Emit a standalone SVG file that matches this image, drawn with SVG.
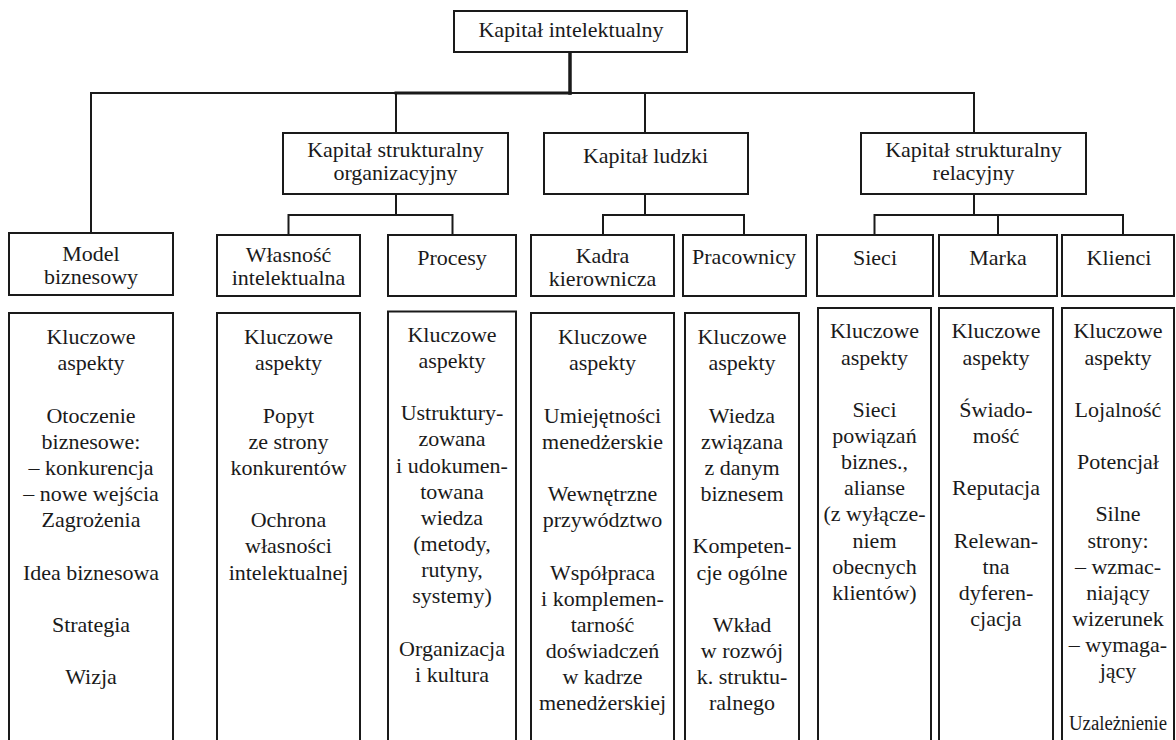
<svg xmlns="http://www.w3.org/2000/svg" width="1176" height="740" viewBox="0 0 1176 740">
  <style>
    .box { fill: #ffffff; stroke: #1a1a1a; stroke-width: 2; }
    .ln { fill: none; stroke: #1a1a1a; stroke-width: 2; stroke-linecap: square; }
    .ln-bold { fill: none; stroke: #1a1a1a; stroke-width: 3.5; stroke-linecap: square; }
    text { font-family: "Liberation Serif", "Times New Roman", serif; font-size: 22px; fill: #1a1a1a; text-anchor: middle; }
    .small { font-size: 20px; }
  </style>

  <rect width="1176" height="740" fill="#ffffff"/>

  <!-- connectors -->
  <g id="connectors">
    <polyline class="ln" points="91,233 91,93 974,93 974,133"/>
    <line class="ln" x1="396" y1="93" x2="396" y2="133"/>
    <line class="ln" x1="645" y1="93" x2="645" y2="133"/>
    <line class="ln-bold" x1="570" y1="52" x2="570" y2="93"/>
    <line class="ln" x1="396" y1="93" x2="570" y2="93" style="stroke-width:3"/>
    <!-- organizational structural capital -->
    <line class="ln" x1="396" y1="194" x2="396" y2="215"/>
    <polyline class="ln" points="288.5,235 288.5,215 452.5,215 452.5,235"/>
    <!-- human capital -->
    <line class="ln" x1="645" y1="194" x2="645" y2="215"/>
    <polyline class="ln" points="603,235 603,215 744,215 744,235"/>
    <!-- relational structural capital -->
    <line class="ln" x1="974" y1="194" x2="974" y2="215"/>
    <polyline class="ln" points="874.5,235 874.5,215 1123,215 1123,235"/>
    <line class="ln" x1="998" y1="215" x2="998" y2="235"/>
  </g>

  <!-- root -->
  <g id="n-kapital-intelektualny">
    <rect class="box" x="454" y="11" width="233" height="41"/>
    <text x="571" y="37">Kapitał intelektualny</text>
  </g>

  <!-- second level -->
  <g id="n-ks-organizacyjny">
    <rect class="box" x="283" y="133" width="225" height="61"/>
    <text x="395.5" y="157">Kapitał strukturalny</text>
    <text x="395.5" y="180">organizacyjny</text>
  </g>
  <g id="n-kapital-ludzki">
    <rect class="box" x="544" y="133" width="204" height="61"/>
    <text x="645.5" y="163">Kapitał ludzki</text>
  </g>
  <g id="n-ks-relacyjny">
    <rect class="box" x="861" y="133" width="225" height="61"/>
    <text x="973.5" y="157">Kapitał strukturalny</text>
    <text x="973.5" y="180">relacyjny</text>
  </g>

  <!-- third level -->
  <g id="n-model">
    <rect class="box" x="9" y="233" width="164" height="62"/>
    <text x="91" y="261">Model</text>
    <text x="91" y="284">biznesowy</text>
  </g>
  <g id="n-wlasnosc">
    <rect class="box" x="217" y="235" width="143" height="61"/>
    <text x="288.5" y="262">Własność</text>
    <text x="288.5" y="285">intelektualna</text>
  </g>
  <g id="n-procesy">
    <rect class="box" x="388" y="235" width="128" height="61"/>
    <text x="452" y="265">Procesy</text>
  </g>
  <g id="n-kadra">
    <rect class="box" x="531" y="235" width="143" height="61"/>
    <text x="602.5" y="263">Kadra</text>
    <text x="602.5" y="286">kierownicza</text>
  </g>
  <g id="n-pracownicy">
    <rect class="box" x="683" y="235" width="123" height="61"/>
    <text x="744" y="264">Pracownicy</text>
  </g>
  <g id="n-sieci">
    <rect class="box" x="817" y="235" width="116" height="61"/>
    <text x="875" y="265">Sieci</text>
  </g>
  <g id="n-marka">
    <rect class="box" x="939" y="235" width="118" height="61"/>
    <text x="998" y="265">Marka</text>
  </g>
  <g id="n-klienci">
    <rect class="box" x="1062" y="235" width="112" height="61"/>
    <text x="1119" y="265">Klienci</text>
  </g>

  <!-- key aspects columns -->
  <g id="a-model">
    <rect class="box" x="9" y="313" width="164" height="440"/>
    <text x="91" y="344">Kluczowe</text>
    <text x="91" y="370">aspekty</text>
    <text x="91" y="422.5">Otoczenie</text>
    <text x="91" y="448.5">biznesowe:</text>
    <text x="91" y="475">– konkurencja</text>
    <text x="91" y="501">– nowe wejścia</text>
    <text x="91" y="527">Zagrożenia</text>
    <text x="91" y="579.5">Idea biznesowa</text>
    <text x="91" y="631.5">Strategia</text>
    <text x="91" y="684">Wizja</text>
  </g>
  <g id="a-wlasnosc">
    <rect class="box" x="217" y="313" width="143" height="440"/>
    <text x="288.5" y="344">Kluczowe</text>
    <text x="288.5" y="370">aspekty</text>
    <text x="288.5" y="422.5">Popyt</text>
    <text x="288.5" y="448.5">ze strony</text>
    <text x="288.5" y="475">konkurentów</text>
    <text x="288.5" y="527">Ochrona</text>
    <text x="288.5" y="553">własności</text>
    <text x="288.5" y="579.5">intelektualnej</text>
  </g>
  <g id="a-procesy">
    <rect class="box" x="388" y="311.5" width="128" height="440"/>
    <text x="452" y="341.7">Kluczowe</text>
    <text x="452" y="367.9">aspekty</text>
    <text x="452" y="420.2">Ustruktury-</text>
    <text x="452" y="446.3">zowana</text>
    <text x="452" y="472.5">i udokumen-</text>
    <text x="452" y="498.6">towana</text>
    <text x="452" y="524.8">wiedza</text>
    <text x="452" y="550.9">(metody,</text>
    <text x="452" y="577.1">rutyny,</text>
    <text x="452" y="603.2">systemy)</text>
    <text x="452" y="655.5">Organizacja</text>
    <text x="452" y="681.7">i kultura</text>
  </g>
  <g id="a-kadra">
    <rect class="box" x="531" y="313" width="143" height="440"/>
    <text x="602.5" y="344">Kluczowe</text>
    <text x="602.5" y="370">aspekty</text>
    <text x="602.5" y="422.5">Umiejętności</text>
    <text x="602.5" y="448.5">menedżerskie</text>
    <text x="602.5" y="501">Wewnętrzne</text>
    <text x="602.5" y="527">przywództwo</text>
    <text x="602.5" y="579.5">Współpraca</text>
    <text x="602.5" y="605.5">i komplemen-</text>
    <text x="602.5" y="631.5">tarność</text>
    <text x="602.5" y="658">doświadczeń</text>
    <text x="602.5" y="684">w kadrze</text>
    <text x="602.5" y="710">menedżerskiej</text>
  </g>
  <g id="a-pracownicy">
    <rect class="box" x="685" y="313" width="114" height="440"/>
    <text x="742" y="344">Kluczowe</text>
    <text x="742" y="370">aspekty</text>
    <text x="742" y="422.5">Wiedza</text>
    <text x="742" y="448.5">związana</text>
    <text x="742" y="475">z danym</text>
    <text x="742" y="501">biznesem</text>
    <text x="742" y="553">Kompeten-</text>
    <text x="742" y="579.5">cje ogólne</text>
    <text x="742" y="631.5">Wkład</text>
    <text x="742" y="658">w rozwój</text>
    <text x="742" y="684">k. struktu-</text>
    <text x="742" y="710">ralnego</text>
  </g>
  <g id="a-sieci">
    <rect class="box" x="818" y="308" width="113" height="445"/>
    <text x="874.5" y="338.3">Kluczowe</text>
    <text x="874.5" y="364.5">aspekty</text>
    <text x="874.5" y="416.8">Sieci</text>
    <text x="874.5" y="442.9">powiązań</text>
    <text x="874.5" y="469.1">biznes.,</text>
    <text x="874.5" y="495.2">alianse</text>
    <text x="874.5" y="521.4">(z wyłącze-</text>
    <text x="874.5" y="547.5">niem</text>
    <text x="874.5" y="573.7">obecnych</text>
    <text x="874.5" y="599.8">klientów)</text>
  </g>
  <g id="a-marka">
    <rect class="box" x="939" y="308" width="114" height="445"/>
    <text x="996" y="338.3">Kluczowe</text>
    <text x="996" y="364.5">aspekty</text>
    <text x="996" y="416.8">Świado-</text>
    <text x="996" y="442.9">mość</text>
    <text x="996" y="495.2">Reputacja</text>
    <text x="996" y="547.5">Relewan-</text>
    <text x="996" y="573.7">tna</text>
    <text x="996" y="599.8">dyferen-</text>
    <text x="996" y="626">cjacja</text>
  </g>
  <g id="a-klienci">
    <rect class="box" x="1062" y="308" width="112" height="445"/>
    <text x="1118" y="338.3">Kluczowe</text>
    <text x="1118" y="364.5">aspekty</text>
    <text x="1118" y="416.8">Lojalność</text>
    <text x="1118" y="469.1">Potencjał</text>
    <text x="1118" y="521.4">Silne</text>
    <text x="1118" y="547.5">strony:</text>
    <text x="1118" y="573.7">– wzmac-</text>
    <text x="1118" y="599.8">niający</text>
    <text x="1118" y="626">wizerunek</text>
    <text x="1118" y="652.1">– wymaga-</text>
    <text x="1118" y="678.3">jący</text>
    <text class="small" x="1118" y="730" textLength="98" lengthAdjust="spacingAndGlyphs">Uzależnienie</text>
  </g>
</svg>
